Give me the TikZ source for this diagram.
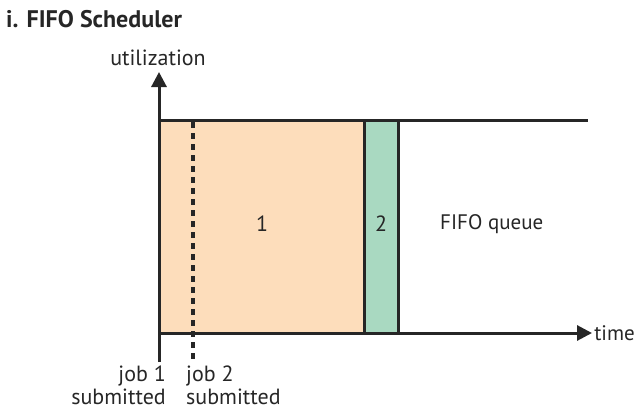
\documentclass[tikz,border=0pt]{standalone}
\usepackage{fontspec}
\setmainfont{PT Sans}
\usetikzlibrary{arrows.meta}
\definecolor{jobone}{HTML}{FDDDBB}
\definecolor{jobtwo}{HTML}{A9D9C1}
\definecolor{ink}{HTML}{262626}
\begin{document}
\begin{tikzpicture}[x=1pt,y=-1pt,
  axis/.style={line width=3pt,draw=ink,-{Triangle[length=15pt,width=15pt]}},
  edge/.style={line width=3pt,draw=ink},
  lbl/.style={font=\fontsize{22}{23}\selectfont,text=ink,inner sep=0pt},
  stepmark/.style={line width=3.2pt,draw=ink,dash pattern=on 6pt off 5pt}]
\useasboundingbox (0,0) rectangle (637,412);
% job blocks
\fill[jobone] (159,120) rectangle (364,333);
\fill[jobtwo] (364,120) rectangle (398,333);
% ceiling line and block borders
\draw[edge] (159,120) -- (588,120);
\draw[edge] (364,120) -- (364,333);
\draw[edge] (398,120) -- (398,333);
% axes
\coordinate (origin) at (159,333);
\coordinate (ytip) at (159,72);
\coordinate (xtip) at (592,333);
\coordinate (jobonelow) at (159,362);
\draw[axis] (jobonelow) -- (ytip);
\draw[axis] (origin) -- (xtip);
% job 2 submission marker
\coordinate (jobtwotop) at (193,122);
\coordinate (jobtwolow) at (193,360);
\draw[stepmark] (jobtwotop) -- (jobtwolow);
% texts
\node[lbl,font=\fontsize{24}{26}\selectfont\bfseries,anchor=west] (title) at (6,19) {i. FIFO Scheduler};
\node[lbl] (util) at (158,58) {utilization};
\node[lbl,font=\fontsize{21}{23}\selectfont,anchor=east] (time) at (635,333) {time};
\node[lbl] (one) at (262,224) {1};
\node[lbl] (two) at (381,224) {2};
\node[lbl,font=\fontsize{21}{23}\selectfont,anchor=west] (queue) at (440,224) {FIFO queue};
\node[lbl,anchor=north east,align=right] (jobone) at (166,366) {job 1\\submitted};
\node[lbl,anchor=north west,align=left] (jobtwo) at (186,366) {job 2\\submitted};
\end{tikzpicture}
\end{document}
